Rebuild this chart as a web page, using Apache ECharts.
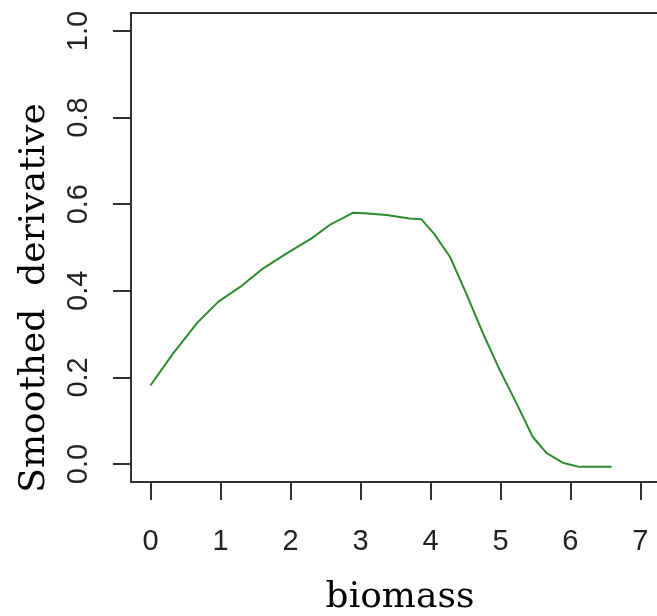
<!DOCTYPE html>
<html>
<head>
<meta charset="utf-8">
<script src="https://cdn.jsdelivr.net/npm/echarts@6/dist/echarts.min.js"></script>
<style>
html,body{margin:0;padding:0;background:#fff;}
#chart{width:657px;height:616px;}
</style>
</head>
<body>
<div id="chart"></div>
<script>
// Data
var biomass = [0, 0.32, 0.66, 0.97, 1.28, 1.61, 1.94, 2.30, 2.56, 2.89, 3.06, 3.37, 3.70, 3.87, 4.05, 4.28, 4.51, 4.75, 4.99, 5.23, 5.46, 5.66, 5.89, 6.11, 6.59];
var derivative = [0.182, 0.255, 0.325, 0.375, 0.409, 0.452, 0.486, 0.521, 0.552, 0.580, 0.579, 0.575, 0.567, 0.565, 0.532, 0.478, 0.394, 0.302, 0.217, 0.140, 0.063, 0.025, 0.003, -0.006, -0.006];
var xTicks = [0, 1, 2, 3, 4, 5, 6, 7];
var yTicks = [0, 0.2, 0.4, 0.6, 0.8, 1.0];
var xTitle = 'biomass';
var yTitle = 'Smoothed  derivative';

var pts = biomass.map(function (x, i) { return [x, derivative[i]]; });
var chart = echarts.init(document.getElementById('chart'));
var axisCol = '#333333';
chart.setOption({
  animation: false,
  backgroundColor: '#ffffff',
  grid: {left: 131, top: 13, width: 529, height: 469, show: true, borderColor: axisCol, borderWidth: 2,
         containLabel: false, outerBoundsMode: 'none'},
  xAxis: {
    type: 'value', min: -0.28, max: 7.28,
    splitLine: {show: false},
    axisLine: {show: true, onZero: false, lineStyle: {color: axisCol, width: 2}},
    axisTick: {show: true, length: 18, customValues: xTicks, lineStyle: {color: axisCol, width: 2}},
    axisLabel: {customValues: xTicks, margin: 45, color: '#222', fontFamily: 'Liberation Sans', fontSize: 29}
  },
  yAxis: {
    type: 'value', min: -0.0415, max: 1.0415,
    splitLine: {show: false},
    axisLine: {show: true, onZero: false, lineStyle: {color: axisCol, width: 2}},
    axisTick: {show: true, length: 18, customValues: yTicks, lineStyle: {color: axisCol, width: 2}},
    axisLabel: {customValues: yTicks, rotate: 90, margin: 38, color: '#222', fontFamily: 'Liberation Sans', fontSize: 29,
      formatter: function (v) { return v.toFixed(1); }}
  },
  graphic: [
    {type: 'text', x: 400, y: 616, style: {text: xTitle, x: 0, y: 0, align: 'center', verticalAlign: 'bottom', font: '36px "DejaVu Serif"', fill: '#000'}},
    {type: 'text', x: 53, y: 298, rotation: Math.PI / 2, style: {text: yTitle, x: 0, y: 0, align: 'center', verticalAlign: 'bottom', font: '36px "DejaVu Serif"', fill: '#000'}}
  ],
  series: [{
    type: 'line', data: pts, showSymbol: false, smooth: false,
    lineStyle: {color: '#2E8B2E', width: 2}
  }]
});
</script>
</body>
</html>
